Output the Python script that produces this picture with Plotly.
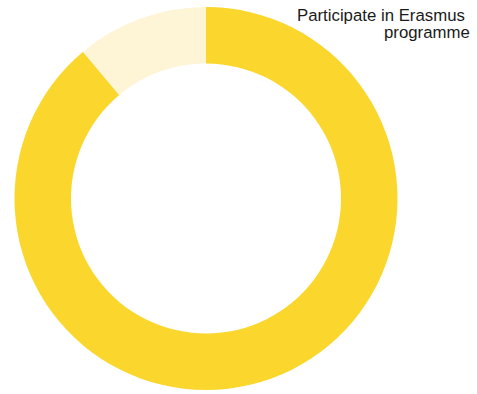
import plotly.graph_objects as go

labels = ["Participate in Erasmus programme", "Do not participate"]
values = [88.9, 11.1]
colors = ["#FBD72E", "#FDF5D6"]
title_lines = ["Participate in Erasmus ", "programme"]

W, H = 477, 394
fig = go.Figure(go.Pie(
    labels=labels, values=values, hole=0.705, sort=False,
    direction="clockwise", rotation=0,
    marker=dict(colors=colors, line=dict(width=0)),
    textinfo="none", showlegend=False, hoverinfo="skip",
    domain=dict(x=[14 / W, 398 / W], y=[(H - 390) / H, (H - 7) / H]),
))
for line, yc in zip(title_lines, [15.5, 32.0]):
    fig.add_annotation(
        text=line.replace(" ", "&nbsp;") if line.endswith(" ") else line,
        showarrow=False,
        xref="paper", yref="paper", x=472 / W, y=(H - yc) / H,
        xanchor="right", yanchor="middle", align="right",
        font=dict(family="Liberation Sans, Arial, sans-serif", size=16.8, color="#1a1a1a"),
    )
fig.update_layout(width=W, height=H, margin=dict(l=0, r=0, t=0, b=0),
                  paper_bgcolor="white", plot_bgcolor="white")
fig.write_html("out.html", config={"displayModeBar": False},
               post_script="document.body.style.margin='0';document.body.style.overflow='hidden';")
